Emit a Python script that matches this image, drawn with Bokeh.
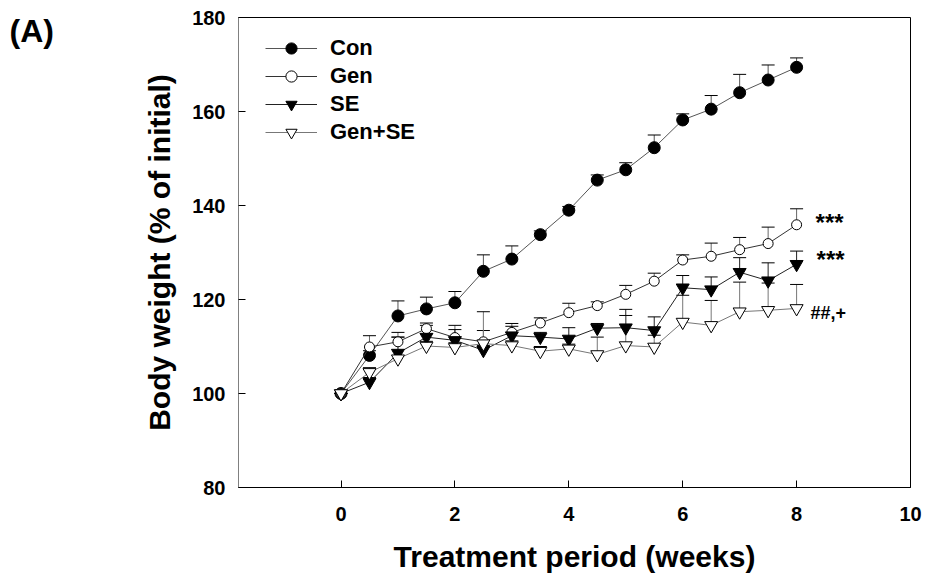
from bokeh.plotting import figure
from bokeh.models import (Range1d, FixedTicker, Legend, LegendItem, Whisker, TeeHead,
                          ColumnDataSource, Label)
from bokeh.layouts import row
from bokeh.embed import file_html
from bokeh.resources import INLINE

# ---- data ----
weeks = [0, 0.5, 1, 1.5, 2, 2.5, 3, 3.5, 4, 4.5, 5, 5.5, 6, 6.5, 7, 7.5, 8]

con = [100, 108.1, 116.5, 118.0, 119.3, 126.0, 128.6, 133.8, 139.0, 145.4, 147.6,
       152.3, 158.2, 160.5, 164.0, 166.7, 169.4]
con_err = [0, 1.0, 3.2, 2.5, 2.4, 3.5, 2.8, 0.8, 0.8, 1.1, 1.5, 2.7, 1.3, 2.9, 3.9, 3.2, 2.0]

gen = [100, 109.9, 111.0, 113.8, 111.9, 111.0, 113.0, 115.0, 117.2, 118.7, 121.1,
       123.9, 128.4, 129.2, 130.6, 131.9, 135.9]
gen_err = [0, 2.4, 2.0, 1.2, 2.6, 2.4, 1.9, 1.1, 2.0, 0.8, 1.9, 1.7, 1.1, 2.8, 2.6, 3.5, 3.4]

se = [100, 102.4, 108.6, 112.0, 111.3, 109.2, 112.3, 112.0, 111.6, 113.9, 114.0,
      113.4, 122.5, 122.1, 125.8, 124.0, 127.5]
se_err = [0, 1.0, 3.4, 2.5, 2.3, 1.0, 2.0, 1.0, 2.4, 1.0, 3.9, 2.9, 2.6, 2.7, 3.1, 3.8, 2.8]

gense = [100, 104.5, 107.4, 110.1, 109.8, 110.6, 110.2, 109.0, 109.5, 108.3, 110.2,
         109.9, 115.2, 114.5, 117.4, 117.7, 118.1]
gense_err = [0, 1.0, 4.6, 1.0, 1.0, 6.8, 1.0, 1.0, 1.0, 3.7, 6.4, 2.5, 5.7, 5.3, 6.3, 5.8, 5.1]

labels = ["Con", "Gen", "SE", "Gen+SE"]
annotations = ["***", "***", "##,+"]
panel_letter = "(A)"

x_ticks = [0, 2, 4, 6, 8, 10]
y_ticks = [80, 100, 120, 140, 160, 180]

FONT = "Liberation Sans"
W, H = 926, 578
LEFT_W = 60

# small panel holding the "(A)" letter
pa = figure(width=LEFT_W, height=H, output_backend="svg", toolbar_location=None,
            x_range=Range1d(0, LEFT_W), y_range=Range1d(0, H),
            x_axis_type=None, y_axis_type=None,
            min_border=0, min_border_left=0, min_border_right=0,
            min_border_top=0, min_border_bottom=0)
pa.outline_line_color = None
pa.grid.visible = False
pa.add_layout(Label(x=9, y=H - 17, text=panel_letter, text_font=FONT,
                    text_font_style="bold", text_font_size="32px",
                    text_baseline="middle", text_align="left", text_color="black"))

p = figure(width=W - LEFT_W, height=H, output_backend="svg", toolbar_location=None,
           x_range=Range1d(-1.8, 10), y_range=Range1d(80, 180),
           min_border_left=238 - LEFT_W, min_border_right=16,
           min_border_top=17, min_border_bottom=91)
p.grid.visible = False
p.background_fill_color = "white"
p.outline_line_color = "black"
p.outline_line_width = 1

# axes
for ax in (p.xaxis[0], p.yaxis[0]):
    ax.major_label_text_font = FONT
    ax.major_label_text_font_style = "bold"
    ax.major_label_text_font_size = "20px"
    ax.major_label_text_color = "black"
    ax.axis_label_text_font = FONT
    ax.axis_label_text_font_style = "bold"
    ax.axis_label_text_font_size = "30px"
    ax.axis_label_text_color = "black"
    ax.minor_tick_line_color = None
    ax.major_tick_in = 7
    ax.major_tick_out = 0
    ax.major_tick_line_color = "black"

p.xaxis.ticker = FixedTicker(ticks=x_ticks)
p.yaxis.ticker = FixedTicker(ticks=y_ticks)
p.xaxis.axis_label = "Treatment period (weeks)"
p.yaxis.axis_label = "Body weight (% of initial)"
p.xaxis.axis_line_color = "black"
p.yaxis.axis_line_color = "#808080"
p.xaxis.major_label_standoff = 19
p.yaxis.major_label_standoff = 13
p.xaxis.axis_label_standoff = 16
p.yaxis.axis_label_standoff = 13

series = [
    (con, con_err, "#555555", "#555555", "circle", "black", 12),
    (gen, gen_err, "#333333", "#666666", "circle", "white", 10),
    (se, se_err, "#222222", "#222222", "inverted_triangle", "black", 13),
    (gense, gense_err, "#777777", "#777777", "inverted_triangle", "white", 13),
]

items = []
for (vals, errs, lcol, ecol, marker, fill, size), lab in zip(series, labels):
    src = ColumnDataSource(dict(x=weeks, y=vals,
                                up=[v + e for v, e in zip(vals, errs)]))
    w = Whisker(source=src, base="x", lower="y", upper="up", dimension="height",
                line_color=ecol, line_width=1,
                upper_head=TeeHead(size=13, line_color="black", line_width=1),
                lower_head=None)
    p.add_layout(w)
    lr = p.line("x", "y", source=src, line_color=lcol, line_width=1)
    sr = p.scatter("x", "y", source=src, marker=marker, size=size,
                   fill_color=fill, line_color="black", line_width=1)
    items.append(LegendItem(label=lab, renderers=[lr, sr]))

legend = Legend(items=items, location=(27, 341), glyph_width=52, glyph_height=28,
                label_height=28, spacing=0, padding=0, margin=0, label_standoff=13,
                border_line_color=None, background_fill_alpha=0,
                label_text_font=FONT, label_text_font_style="bold",
                label_text_font_size="22px", label_text_color="black")
p.add_layout(legend)

# significance annotations at the last point of each treated series
ann_specs = [(gen, annotations[0], 19, 2, "24px"),
             (se, annotations[1], 20, 5, "24px"),
             (gense, annotations[2], 14, -5, "18px")]
for vals, txt, xo, yo, fs in ann_specs:
    p.add_layout(Label(x=weeks[-1], y=vals[-1], x_offset=xo, y_offset=yo, text=txt,
                       text_font=FONT, text_font_style="bold", text_font_size=fs,
                       text_baseline="middle", text_align="left", text_color="black"))

layout = row(pa, p, spacing=0)
open("out.html", "w").write(file_html(layout, INLINE))
